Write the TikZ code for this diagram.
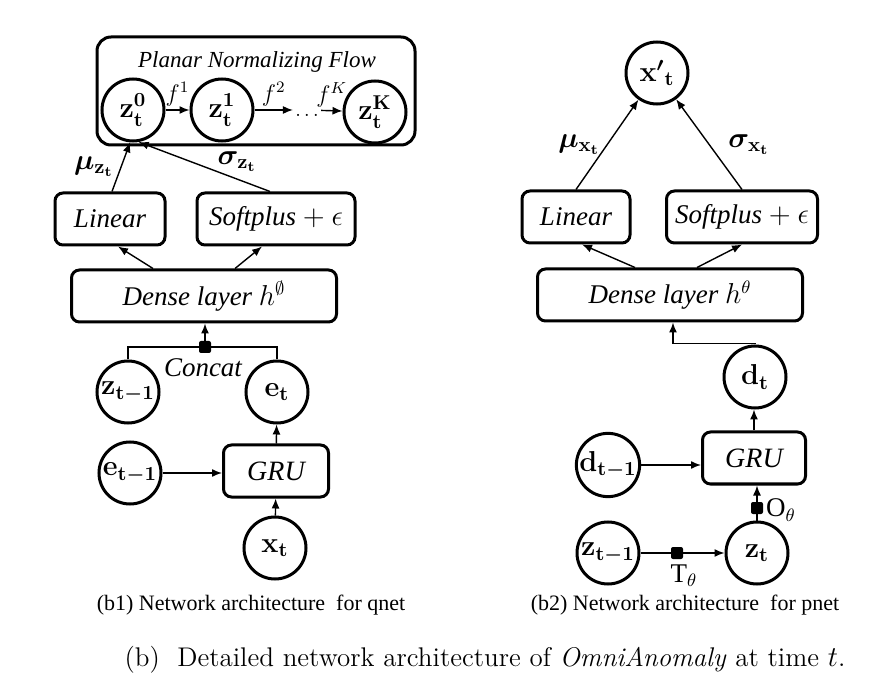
\documentclass[tikz,border=0pt]{standalone}
\usepackage{amsmath}
\usepackage{fontspec}
\setmainfont{Liberation Serif}
\newfontfamily\lmfont{Latin Modern Roman}
\usetikzlibrary{arrows.meta}

\begin{document}
\begin{tikzpicture}[x=0.5pt, y=-0.5pt,
    var/.style={circle, draw, line width=1.5pt, fill=white, minimum size=31pt, inner sep=0pt, font=\fontsize{14}{16}\selectfont\boldmath},
    layer/.style={rectangle, draw, rounded corners=4pt, line width=1.5pt, minimum height=26pt, inner sep=0pt, font=\fontsize{13.5}{16}\selectfont\itshape},
    conn/.style={-{Latex[length=5pt,width=4pt]}, line width=0.7pt},
    wire/.style={line width=0.7pt},
    gate/.style={fill=black, minimum size=6pt, inner sep=0pt, rounded corners=1pt},
    lbl/.style={font=\fontsize{14}{16}\selectfont\boldmath},
    flbl/.style={font=\fontsize{12}{14}\selectfont, inner sep=1.5pt},
    sublbl/.style={font=\fontsize{11}{13}\selectfont},
  ]
  \useasboundingbox (0,0) rectangle (880,690);

  % qnet
  \node[layer, minimum width=159pt, minimum height=54pt, rounded corners=7pt] (flow) at (256,91) {};
  \node[font=\fontsize{11.5}{14}\selectfont\itshape] (flowtitle) at (257,62) {Planar Normalizing Flow};
  \node[var] (z0) at (133,110) {$\mathbf{z_t^0}$};
  \node[var] (z1) at (222,110) {$\mathbf{z_t^1}$};
  \node[var] (zK) at (375,112) {$\mathbf{z_t^K}$};
  \node[inner sep=1pt, text height=1.4ex, text depth=0pt] (dots) at (307,110) {$\ldots$};
  \draw[conn] (z0) -- (z1) node[midway, above, flbl] {$f^1$};
  \draw[conn] (z1) -- (dots) node[midway, above, flbl] {$f^2$};
  \draw[conn] (dots) -- (zK) node[midway, above, flbl] {$f^K$};

  \node[layer, minimum width=55pt] (lin) at (110,219) {Linear};
  \node[layer, minimum width=79pt] (soft) at (276,219) {Softplus $+$ $\epsilon$};
  \node[layer, minimum width=132.5pt] (dense) at (204,296) {Dense layer $h^{\emptyset}$};
  \draw[conn] ([xshift=1pt]lin.north) -- (z0.-95) node[midway, left, lbl] {$\mu_{\mathbf{z_t}}$};
  \draw[conn] ([xshift=-3pt]soft.north) -- (z0.-80) node[pos=0.25, above, lbl] {$\sigma_{\mathbf{z_t}}$};
  \draw[conn] ([xshift=-25.5pt]dense.north) -- ([xshift=4pt]lin.south);
  \draw[conn] ([xshift=15.5pt]dense.north) -- ([xshift=-7pt]soft.south);

  \node[var] (zprev) at (128,392) {$\mathbf{z_{t-1}}$};
  \node[var] (et) at (277,392) {$\mathbf{e_t}$};
  \node[var] (eprev) at (130,473) {$\mathbf{e_{t-1}}$};
  \node[layer, minimum width=52.5pt, font=\fontsize{14}{16}\selectfont\itshape] (gru) at (276,471) {GRU};
  \node[var] (xt) at (275,548) {$\mathbf{x_t}$};
  \node[gate] (cat) at (205,347) {};
  \node[font=\fontsize{13.5}{16}\selectfont\itshape] (catlbl) at (203,368) {Concat};
  \draw[wire] (zprev.north) |- (cat.west);
  \draw[wire] (et.north) |- (cat.east);
  \draw[conn] (cat) -- (cat |- dense.south);
  \draw[conn] (eprev) -- (eprev -| gru.west);
  \draw[conn] (gru) -- (et);
  \draw[conn] (xt) -- (gru);
  \node[sublbl] (capq) at (251,605) {(b1) Network architecture~ for qnet};

  % pnet
  \node[var] (xp) at (657,73) {$\mathbf{x}'{}_{\mathbf{t}}$};
  \node[layer, minimum width=54pt] (lin2) at (576,217) {Linear};
  \node[layer, minimum width=75.5pt] (soft2) at (742,217) {Softplus $+$ $\epsilon$};
  \node[layer, minimum width=132.5pt] (dense2) at (670,295) {Dense layer $h^{\theta}$};
  \draw[conn] (lin2.north) -- (xp) node[midway, left, lbl] {$\mu_{\mathbf{x_t}}$};
  \draw[conn] (soft2.north) -- (xp) node[midway, right=6pt, lbl] {$\sigma_{\mathbf{x_t}}$};
  \draw[conn] ([xshift=-17.5pt]dense2.north) -- ([xshift=3pt]lin2.south);
  \draw[conn] ([xshift=13.5pt]dense2.north) -- (soft2.south);

  \node[var] (dt) at (755,377) {$\mathbf{d_t}$};
  \node[layer, minimum width=51.5pt, font=\fontsize{14}{16}\selectfont\itshape] (gru2) at (754,458) {GRU};
  \node[var] (dprev) at (608,465) {$\mathbf{d_{t-1}}$};
  \node[var] (zprev2) at (608,553) {$\mathbf{z_{t-1}}$};
  \node[var] (zt) at (757,553) {$\mathbf{z_t}$};
  \node[gate] (tgate) at (677,553) {};
  \node[gate] (ogate) at (757,508) {};
  \node[font=\fontsize{13.5}{16}\selectfont] (tlbl) at (684,576) {$\mathrm{T}_\theta$};
  \node[font=\fontsize{13.5}{16}\selectfont] (olbl) at (781,510) {$\mathrm{O}_\theta$};
  \draw[conn] (dt.north) |- ([xshift=1.5pt,yshift=-10.5pt]dense2.south) -- ([xshift=1.5pt]dense2.south);
  \draw[conn] (gru2) -- (gru2 |- dt.south);
  \draw[conn] (dprev) -- (dprev -| gru2.west);
  \draw[wire] (zprev2) -- (tgate);
  \draw[conn] (tgate) -- (zt);
  \draw[wire] (zt) -- (ogate);
  \draw[conn] (ogate) -- (ogate |- gru2.south);
  \node[sublbl] (capp) at (685,605) {(b2) Network architecture~ for pnet};

  \node[font=\lmfont\fontsize{13.5}{16}\selectfont] (cap) at (485,660) {(b)~ Detailed network architecture of \textit{OmniAnomaly} at time $t$.};
\end{tikzpicture}
\end{document}
